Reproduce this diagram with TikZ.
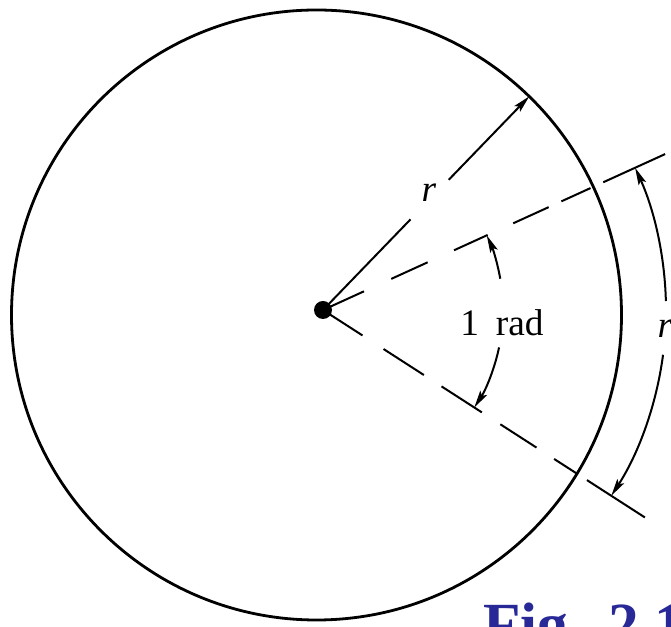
\documentclass[tikz,border=0pt]{standalone}
\usepackage{fontspec}
\setmainfont{Liberation Serif}
\usetikzlibrary{arrows.meta}
\definecolor{figblue}{RGB}{40,40,150}

\begin{document}
\begin{tikzpicture}[x = 0.75pt, y = 0.75pt, >={Stealth[length=13pt, width=6pt, inset=2.5pt]}]
    \useasboundingbox (-323, -317) rectangle (348, 310);
    \clip (-323, -317) rectangle (348, 310);
    \coordinate (O) at (0, 0);
    \draw[line width = 2.1pt] (-6.5, -5) circle (305);
    % radius r
    \draw[line width = 1.5pt] (O) -- (46:126);
    \draw[line width = 1.5pt, ->] (46:181) -- (46:297);
    \node[font = \fontsize{28}{30}\selectfont\itshape] (rtop) at (106, 117) {r};
    % the two rays, 1 rad apart
    \foreach \a/\b in {0/45, 75/115, 144/181, 209/248, 262/294, 308/376}{
        \draw[line width = 1.5pt] (24.5:\a) -- (24.5:\b);
    }
    \foreach \a/\b in {0/47, 72/120, 141/189, 211/254, 275/303, 314/383}{
        \draw[line width = 1.5pt] (-32.8:\a) -- (-32.8:\b);
    }
    % angle
    \draw[line width = 1.5pt, ->] (10:180) arc (10:24.5:180);
    \draw[line width = 1.5pt, ->] (-12:180) arc (-12:-32.8:180);
    \node[font = \fontsize{28}{30}\selectfont] (angle) at (179, -13) {1\hspace{0.45em}rad};
    % arc length
    \draw[line width = 1.5pt, ->] (1.5:343) arc (1.5:24.5:343);
    \draw[line width = 1.5pt, ->] (-7.5:343) arc (-7.5:-32.8:343);
    \node[font = \fontsize{28}{30}\selectfont\itshape] (rarc) at (342, -19) {r};
    \fill[black] (O) circle (9);
    \node[anchor = base west, text = figblue, font = \fontsize{46}{48}\selectfont\bfseries, inner sep = 0pt] (fig) at (160, -336) {Fig.\hspace{0.4em}2.1};
\end{tikzpicture}
\end{document}
